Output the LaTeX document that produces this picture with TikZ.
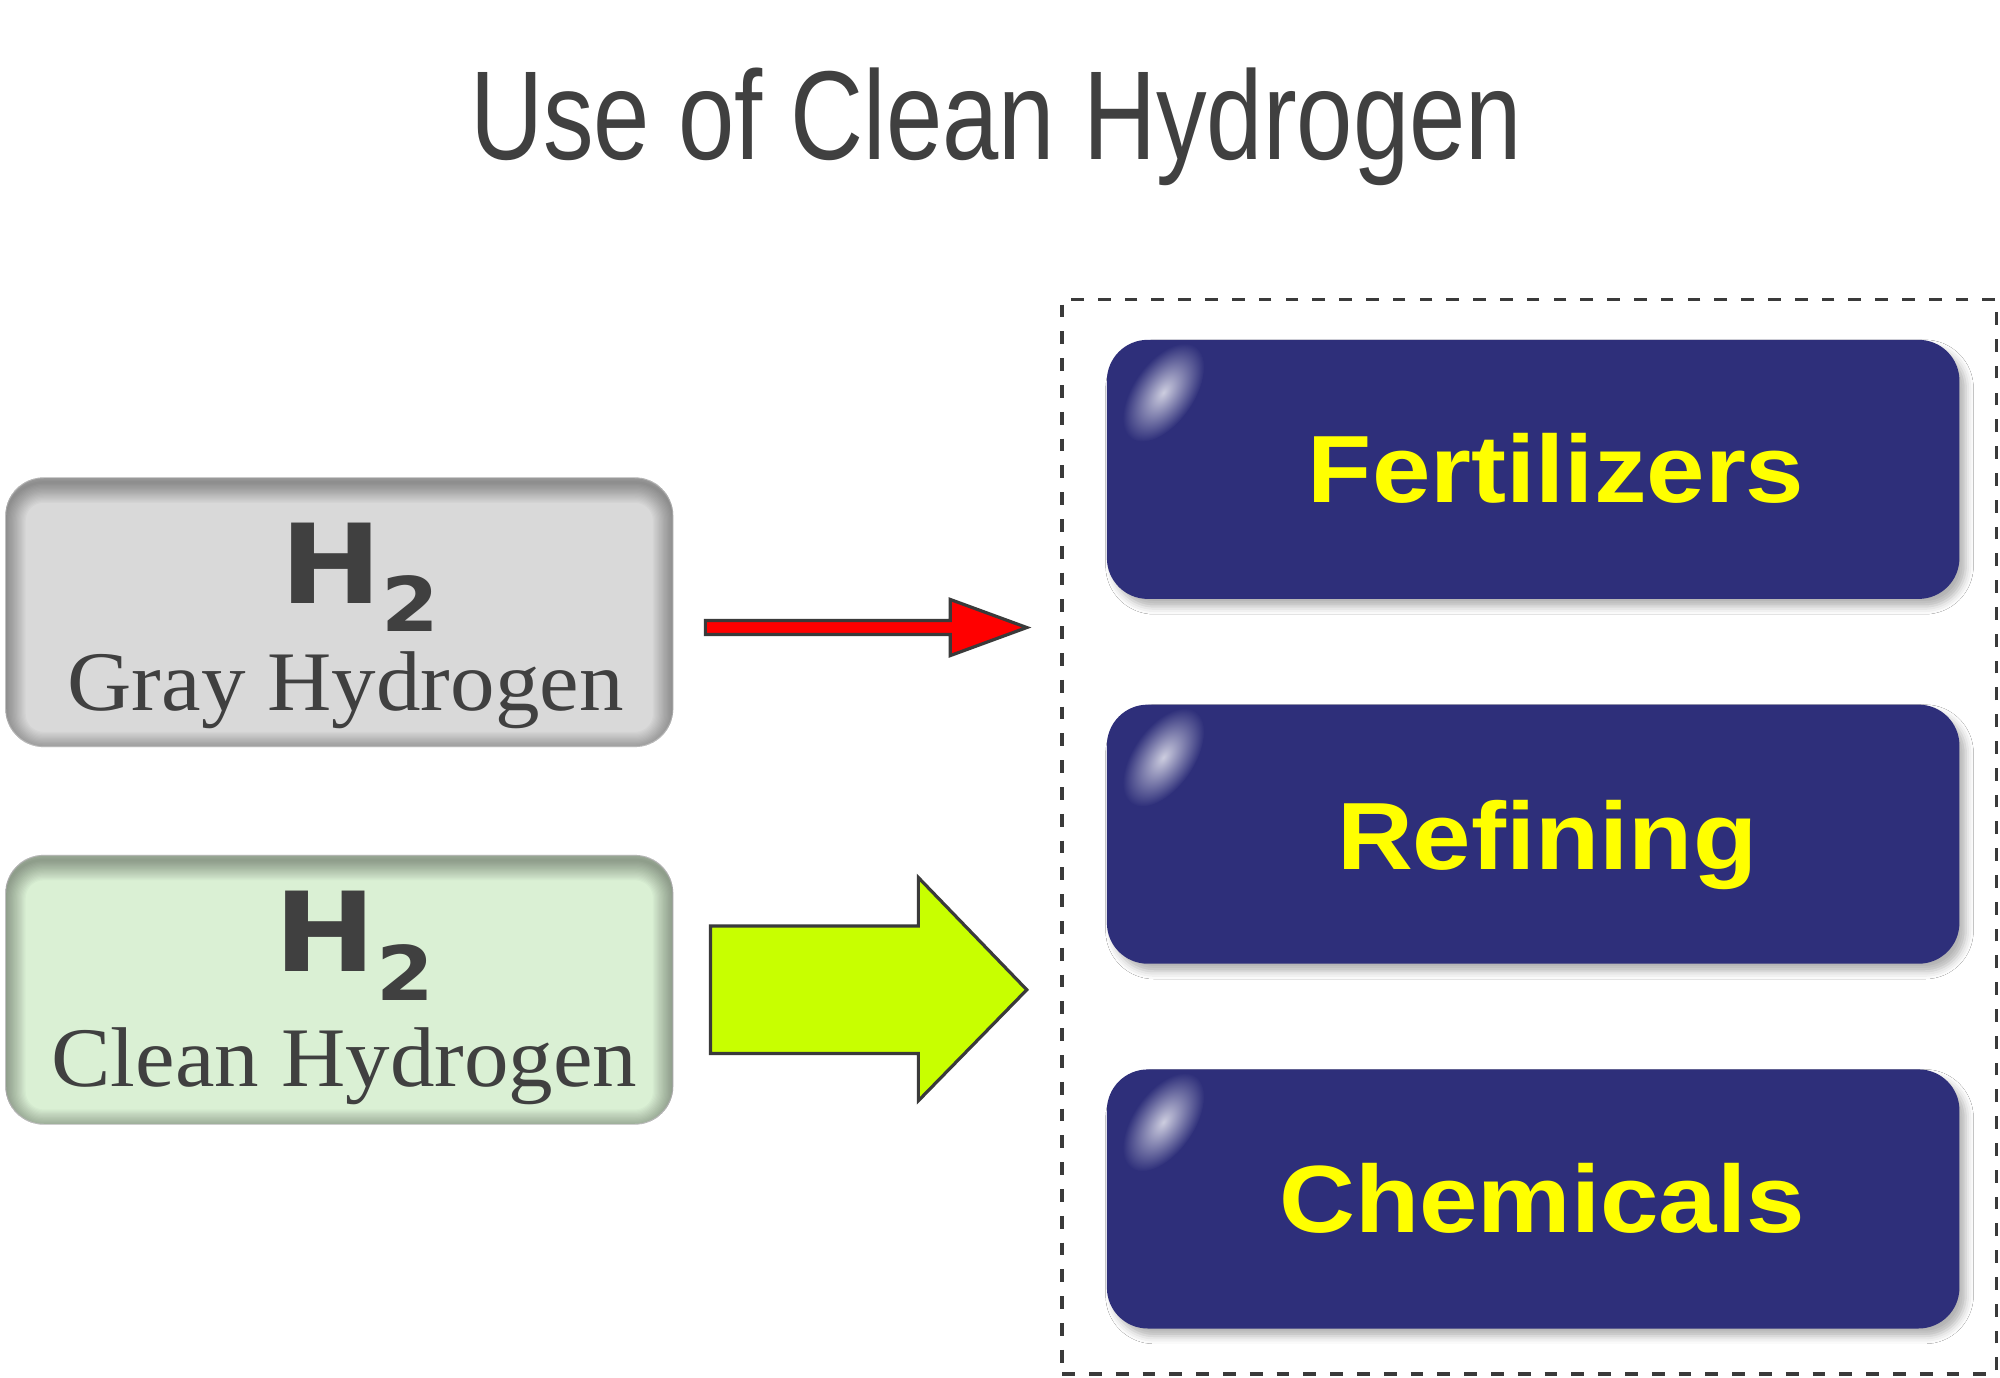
\documentclass[tikz,border=0pt]{standalone}
\usepackage{fontspec}
\setmainfont{Liberation Serif}
\newfontfamily\titlefont[FakeStretch=0.8]{Liberation Sans}
\newfontfamily\boxlabelfont[FakeStretch=1.1]{Liberation Sans}
\newfontfamily\hfont[FakeStretch=1.1]{DejaVu Sans}
\newfontfamily\namefont[FakeStretch=1.05]{Liberation Serif}
\usetikzlibrary{shadows.blur}

\definecolor{textgray}{RGB}{64,64,64}
\definecolor{boxgray}{RGB}{217,217,217}
\definecolor{boxgreen}{RGB}{218,240,212}
\definecolor{usenavy}{RGB}{46,47,122}
\definecolor{useyellow}{RGB}{255,255,0}
\definecolor{arrowred}{RGB}{255,0,0}
\definecolor{arrowlime}{RGB}{200,255,0}
\definecolor{edgegray}{RGB}{58,58,58}

\tikzstyle{source}=[rectangle,rounded corners=0.3cm,inner sep=0pt,minimum width=5.22cm,minimum height=2.1cm]
\tikzstyle{usebox}=[rectangle,rounded corners=0.32cm,fill=usenavy,inner sep=0pt,minimum width=6.68cm,minimum height=2.03cm,
	blur shadow={shadow xshift=0.05cm,shadow yshift=-0.06cm,shadow blur radius=0.06cm,shadow opacity=30}]
\tikzstyle{uselabel}=[anchor=base,inner sep=0pt,text=useyellow,font=\boxlabelfont\bfseries\fontsize{21.3pt}{24pt}\selectfont]
\tikzstyle{hlabel}=[anchor=base,inner sep=0pt,text=textgray,font=\hfont\bfseries\fontsize{24.6pt}{28pt}\selectfont]
\tikzstyle{namelabel}=[anchor=base,inner sep=0pt,text=textgray,font=\namefont\fontsize{18.9pt}{22pt}\selectfont]
\tikzstyle{container}=[rectangle,draw=edgegray,line width=0.03cm,dash pattern=on 0.1cm off 0.11cm,minimum width=7.32cm,minimum height=8.42cm]
\tikzstyle{fatarrow}=[draw=edgegray,line width=0.025cm,line join=miter]
\tikzstyle{glow}=[black,opacity=0.022,rounded corners=0.3cm]
\tikzstyle{shine}=[inner color=white!76!usenavy,outer color=usenavy]

\newcommand{\htwo}{H\raisebox{-0.22cm}{\fontsize{16.8pt}{18pt}\selectfont 2}}

\begin{document}
\begin{tikzpicture}[x=0.01cm,y=-0.01cm]
			\useasboundingbox (0,0) rectangle (1568,1080);
			\fill[white] (0,0) rectangle (1568,1080);
			
			\node (title) at (781,125) [anchor=base,text=textgray,font=\titlefont\fontsize{28.2pt}{32pt}\selectfont] {Use of Clean Hydrogen};
			
			\node (uses) at (1199,656) [container] {};
			
			\node (gray) at (266,480) [source,fill=boxgray] {};
			\node (clean) at (266,776) [source,fill=boxgreen] {};
			\foreach \b in {gray,clean} {
				\begin{scope}
					\clip[rounded corners=0.3cm] (\b.south west) rectangle (\b.north east);
					\foreach \w in {1,...,16}
						\draw[glow,line width=\w*0.02cm] ([yshift=-0.04cm]\b.south west) rectangle ([yshift=-0.04cm]\b.north east);
				\end{scope}
			}
			\node (grayH) at (282,473) [hlabel] {\htwo};
			\node (grayname) at (271,557) [namelabel] {Gray Hydrogen};
			\node (cleanH) at (278,762) [hlabel] {\htwo};
			\node (cleanname) at (270,852) [namelabel] {Clean Hydrogen};
			
			\node (fert) at (1202,368) [usebox] {};
			\node (refin) at (1202,654) [usebox] {};
			\node (chem) at (1202,940) [usebox] {};
			\foreach \b in {fert,refin,chem} {
				\coordinate (\b shine) at ([shift={(45,42)}]\b.north west);
				\begin{scope}
					\clip[rounded corners=0.32cm] (\b.south west) rectangle (\b.north east);
					\begin{scope}[transform canvas={shift={(\b shine)},rotate=55}]
						\shade[shine] (0,0) ellipse (44 and 24);
					\end{scope}
				\end{scope}
			}
			\node (fertlabel) at (1220,394) [uselabel] {Fertilizers};
			\node (refinlabel) at (1213,682) [uselabel] {Refining};
			\node (chemlabel) at (1209,966) [uselabel] {Chemicals};
			
			\coordinate (rtail) at (553,492);
			\coordinate (rtip) at (805,492);
			\coordinate (gtail) at (557,776);
			\coordinate (gtip) at (805,776);
			
			\draw[fatarrow,fill=arrowred] (rtail) ++(0,-5.5) -- ++(192,0) -- ++(0,-16.5) -- (rtip) -- ++(-60,22) -- ++(0,-16.5) -- ++(-192,0) -- cycle;
			\draw[fatarrow,fill=arrowlime] (gtail) ++(0,-50) -- ++(163,0) -- ++(0,-38) -- (gtip) -- ++(-85,87) -- ++(0,-37) -- ++(-163,0) -- cycle;
\end{tikzpicture}
\end{document}
